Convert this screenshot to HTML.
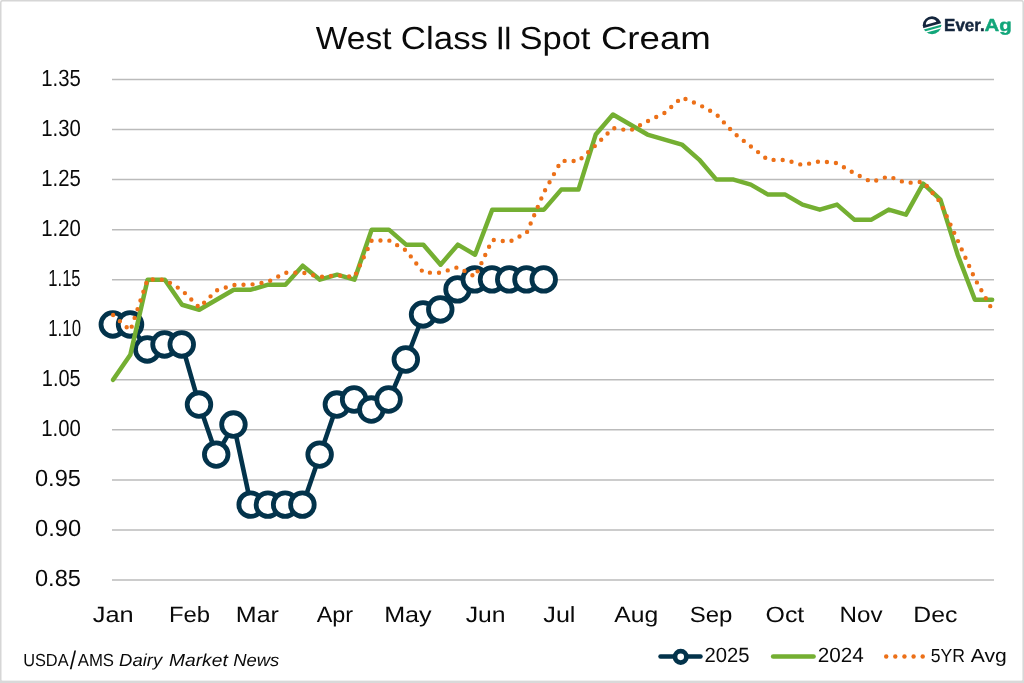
<!DOCTYPE html>
<html lang="en"><head><meta charset="utf-8"><title>West Class II Spot Cream</title>
<style>html,body{margin:0;padding:0;background:#fff;overflow:hidden}svg{display:block}text{font-family:"Liberation Sans",sans-serif;white-space:pre;text-rendering:geometricPrecision}</style></head><body>
<svg width="1024" height="683" viewBox="0 0 1024 683">
<rect x="0" y="0" width="1024" height="683" fill="#fff"/>
<rect x="0.75" y="0.65" width="1022.45" height="681.1" rx="2" ry="2" fill="none" stroke="#D6D6D6" stroke-width="1.5"/>
<rect x="0" y="680.6" width="1024" height="2.4" fill="#D9D9D9"/>
<g stroke="#BBBBBB" stroke-width="1.5"><line x1="112" y1="79.50" x2="994" y2="79.50"/><line x1="112" y1="129.55" x2="994" y2="129.55"/><line x1="112" y1="179.60" x2="994" y2="179.60"/><line x1="112" y1="229.65" x2="994" y2="229.65"/><line x1="112" y1="279.70" x2="994" y2="279.70"/><line x1="112" y1="329.75" x2="994" y2="329.75"/><line x1="112" y1="379.80" x2="994" y2="379.80"/><line x1="112" y1="429.85" x2="994" y2="429.85"/><line x1="112" y1="479.90" x2="994" y2="479.90"/><line x1="112" y1="529.95" x2="994" y2="529.95"/><line x1="112" y1="580.00" x2="994" y2="580.00"/></g>
<path d="M113.10 324.75 L130.34 324.75 L147.57 349.77 L164.81 344.77 L182.04 344.77 L199.28 404.83 L216.52 454.88 L233.75 424.85 L250.99 504.93 L268.22 504.93 L285.46 504.93 L302.70 504.93 L319.93 454.88 L337.17 404.83 L354.40 399.82 L371.64 409.83 L388.88 399.82 L406.11 359.78 L423.35 314.74 L440.58 309.73 L457.82 289.71 L475.06 279.70 L492.29 279.70 L509.53 279.70 L526.76 279.70 L544.00 279.70" fill="none" stroke="#03334B" stroke-width="4.6" stroke-linejoin="round" stroke-linecap="round"/>
<g fill="#fff" stroke="#03334B" stroke-width="4.8"><circle cx="112.80" cy="324.45" r="11.8"/><circle cx="130.04" cy="324.45" r="11.8"/><circle cx="147.27" cy="349.47" r="11.8"/><circle cx="164.51" cy="344.47" r="11.8"/><circle cx="181.74" cy="344.47" r="11.8"/><circle cx="198.98" cy="404.53" r="11.8"/><circle cx="216.22" cy="454.58" r="11.8"/><circle cx="233.45" cy="424.55" r="11.8"/><circle cx="250.69" cy="504.63" r="11.8"/><circle cx="267.92" cy="504.63" r="11.8"/><circle cx="285.16" cy="504.63" r="11.8"/><circle cx="302.40" cy="504.63" r="11.8"/><circle cx="319.63" cy="454.58" r="11.8"/><circle cx="336.87" cy="404.53" r="11.8"/><circle cx="354.10" cy="399.52" r="11.8"/><circle cx="371.34" cy="409.53" r="11.8"/><circle cx="388.58" cy="399.52" r="11.8"/><circle cx="405.81" cy="359.48" r="11.8"/><circle cx="423.05" cy="314.44" r="11.8"/><circle cx="440.28" cy="309.43" r="11.8"/><circle cx="457.52" cy="289.41" r="11.8"/><circle cx="474.76" cy="279.40" r="11.8"/><circle cx="491.99" cy="279.40" r="11.8"/><circle cx="509.23" cy="279.40" r="11.8"/><circle cx="526.46" cy="279.40" r="11.8"/><circle cx="543.70" cy="279.40" r="11.8"/></g>
<path d="M113.10 379.80 L130.34 354.78 L147.57 279.70 L164.81 279.70 L182.04 304.73 L199.28 309.73 L216.52 299.72 L233.75 289.71 L250.99 289.71 L268.22 284.71 L285.46 284.71 L302.70 265.69 L319.93 279.70 L337.17 274.70 L354.40 279.70 L371.64 229.65 L388.88 229.65 L406.11 244.67 L423.35 244.67 L440.58 264.69 L457.82 244.67 L475.06 254.68 L492.29 209.63 L509.53 209.63 L526.76 209.63 L544.00 209.63 L561.24 189.61 L578.47 189.61 L595.71 134.56 L612.94 114.54 L630.18 124.55 L647.42 134.56 L664.65 139.56 L681.89 144.57 L699.12 159.58 L716.36 179.60 L733.60 179.60 L750.83 184.60 L768.07 194.62 L785.30 194.62 L802.54 204.62 L819.78 209.63 L837.01 204.62 L854.25 219.64 L871.48 219.64 L888.72 209.63 L905.96 214.64 L923.19 183.60 L940.43 199.62 L957.66 254.68 L974.90 299.72 L992.14 299.72" fill="none" stroke="#74AF32" stroke-width="4.5" stroke-linejoin="round" stroke-linecap="round"/>
<path d="M113.10 314.94 L130.34 330.65 L147.57 279.40 L164.81 279.70 L182.04 290.21 L199.28 307.53 L216.52 290.41 L233.75 285.01 L250.99 284.60 L268.22 281.80 L285.46 272.69 L302.70 272.59 L319.93 276.90 L337.17 275.30 L354.40 277.00 L371.64 240.66 L388.88 240.36 L406.11 250.37 L423.35 272.59 L440.58 272.69 L457.82 267.19 L475.06 276.80 L492.29 239.86 L509.53 241.86 L526.76 232.65 L544.00 192.21 L561.24 160.88 L578.47 161.08 L595.71 145.27 L612.94 128.05 L630.18 130.65 L647.42 121.24 L664.65 112.93 L681.89 97.42 L699.12 104.63 L716.36 114.33 L733.60 132.85 L750.83 146.47 L768.07 159.88 L785.30 159.98 L802.54 165.09 L819.78 161.28 L837.01 163.18 L854.25 173.29 L871.48 182.00 L888.72 176.30 L905.96 183.00 L923.19 181.70 L940.43 202.52 L957.66 240.36 L974.90 278.80 L992.14 309.53" fill="none" stroke="#EC7018" stroke-width="4.4" stroke-linejoin="round" stroke-linecap="round" stroke-dasharray="0 9.19 0 9.19 0 9.19 0 9.19 0 9.19 0 9.19 0 9.19 0 9.19 0 9.07 0 9.07 0 9.07 0 9.07 0 9.07 0 9.07 0 9.07 0 9.06 0 9.06 0 9.06 0 9.06 0 9.06 0 9.06 0 9.06 0 9.06 0 9.06 0 9.06 0 9.06 0 9.06 0 9.06 0 9.07 0 9.07 0 9.07 0 9.07 0 9.07 0 9.07 0 9.07 0 9.07 0 9.07 0 9.07 0 8.99 0 8.99 0 8.99 0 8.99 0 8.99 0 8.99 0 8.99 0 9.09 0 9.09 0 9.09 0 9.09 0 9.09 0 9.09 0 9.06 0 9.06 0 9.06 0 9.06 0 9.06 0 9.06 0 9.06 0 9.06 0 9.06 0 9.07 0 9.07 0 9.07 0 9.07 0 9.07 0 9.23 0 9.23 0 9.23 0 9.23 0 9.00 0 9.00 0 9.00 0 9.00 0 9.00 0 9.00 0 9.00 0 9.09 0 9.09 0 9.09 0 9.09 0 9.09 0 9.09 0 9.12 0 9.12 0 9.12 0 9.13 0 9.13 0 9.13 0 9.13 0 9.08 0 9.08 0 9.08 0 9.08 0 9.08 0 9.08 0 9.08 0 9.10 0 9.10 0 9.10 0 9.10 0 9.09 0 9.07 0 9.07 0 9.07 0 9.07 0 9.07 0 9.07 0 9.07 0 9.09 0 9.09 0 9.09 0 9.09 0 9.09 0 9.09 0 9.13 0 9.13 0 9.13 0 9.13 0 9.13 0 9.13 0 9.08 0 9.08 0 9.08 0 9.08 0 9.08 0 9.08 0 9.08 0 9.08 0 9.08 0 9.08 0 50"/>
<line x1="660.5" y1="656.5" x2="700.5" y2="656.5" stroke="#03334B" stroke-width="4.5" stroke-linecap="round"/>
<circle cx="680.7" cy="656.85" r="5.7" fill="#fff" stroke="#03334B" stroke-width="4.75"/>
<line x1="773.15" y1="656.5" x2="813.55" y2="656.5" stroke="#74AF32" stroke-width="4.6" stroke-linecap="round"/>
<g fill="#EC7018"><circle cx="886.20" cy="656.55" r="2.2"/><circle cx="895.30" cy="656.55" r="2.2"/><circle cx="904.45" cy="656.55" r="2.2"/><circle cx="913.60" cy="656.55" r="2.2"/><circle cx="922.70" cy="656.55" r="2.2"/></g>
<defs><clipPath id="lc"><ellipse cx="0" cy="0" rx="9.25" ry="8.95"/></clipPath></defs>
<g transform="translate(932.05,25.25)"><g clip-path="url(#lc)"><g transform="rotate(-15.5)">
<path fill="#14263D" fill-rule="evenodd" d="M-12,-12 H12 V0.55 H-12 Z M-5.7,-2.1 A5.4 4.2 0 0 1 5.1,-2.1 Z"/>
<rect x="-12" y="1.85" width="24" height="2.3" fill="#12A67A"/>
<rect x="-12" y="5.6" width="24" height="6" fill="#12A67A"/>
</g></g></g>

<text class="title"><tspan id="t1" x="315.89" y="49" font-size="31.90" textLength="75.61" lengthAdjust="spacingAndGlyphs" fill="#0A0A0A">West</tspan> <tspan id="t2" x="400.89" y="49" font-size="31.90" textLength="87.09" lengthAdjust="spacingAndGlyphs" fill="#0A0A0A">Class</tspan> <tspan id="t3" x="496.37" y="49" font-size="31.90" textLength="8.18" lengthAdjust="spacingAndGlyphs" fill="#0A0A0A" stroke="#0A0A0A" stroke-width="0.50" stroke-linejoin="round">I</tspan><tspan id="t3b" x="504.33" y="49" font-size="31.90" textLength="7.14" lengthAdjust="spacingAndGlyphs" fill="#0A0A0A" stroke="#0A0A0A" stroke-width="0.50" stroke-linejoin="round">I</tspan> <tspan id="t4" x="519.53" y="49" font-size="31.90" textLength="70.92" lengthAdjust="spacingAndGlyphs" fill="#0A0A0A">Spot</tspan> <tspan id="t5" x="600.93" y="49" font-size="31.90" textLength="109.89" lengthAdjust="spacingAndGlyphs" fill="#0A0A0A">Cream</tspan></text>
<text id="y0" x="41.34" y="86" font-size="23.40" textLength="39.52" lengthAdjust="spacingAndGlyphs" fill="#0A0A0A">1.35</text>
<text id="y1" x="41.29" y="136" font-size="23.40" textLength="39.68" lengthAdjust="spacingAndGlyphs" fill="#0A0A0A">1.30</text>
<text id="y2" x="41.34" y="186" font-size="23.40" textLength="39.52" lengthAdjust="spacingAndGlyphs" fill="#0A0A0A">1.25</text>
<text id="y3" x="41.29" y="236" font-size="23.40" textLength="39.68" lengthAdjust="spacingAndGlyphs" fill="#0A0A0A">1.20</text>
<text id="y4" x="48.29" y="286" font-size="23.40" textLength="32.31" lengthAdjust="spacingAndGlyphs" fill="#0A0A0A">1.15</text>
<text id="y5" x="48.29" y="336" font-size="23.40" textLength="32.69" lengthAdjust="spacingAndGlyphs" fill="#0A0A0A">1.10</text>
<text id="y6" x="41.80" y="386" font-size="23.40" textLength="38.83" lengthAdjust="spacingAndGlyphs" fill="#0A0A0A">1.05</text>
<text id="y7" x="41.29" y="436" font-size="23.40" textLength="39.68" lengthAdjust="spacingAndGlyphs" fill="#0A0A0A">1.00</text>
<text id="y8" x="35.00" y="486" font-size="23.40" textLength="45.92" lengthAdjust="spacingAndGlyphs" fill="#0A0A0A">0.95</text>
<text id="y9" x="35.00" y="536" font-size="23.40" textLength="46.12" lengthAdjust="spacingAndGlyphs" fill="#0A0A0A">0.90</text>
<text id="y10" x="35.00" y="586" font-size="23.40" textLength="45.92" lengthAdjust="spacingAndGlyphs" fill="#0A0A0A">0.85</text>
<text id="m1" x="92.86" y="622" font-size="22.00" textLength="40.85" lengthAdjust="spacingAndGlyphs" fill="#0A0A0A">Jan</text>
<text id="m2" x="169.03" y="622" font-size="22.00" textLength="41.15" lengthAdjust="spacingAndGlyphs" fill="#0A0A0A">Feb</text>
<text id="m3" x="235.81" y="622" font-size="22.00" textLength="43.11" lengthAdjust="spacingAndGlyphs" fill="#0A0A0A">Mar</text>
<text id="m4" x="316.67" y="622" font-size="22.00" textLength="36.43" lengthAdjust="spacingAndGlyphs" fill="#0A0A0A">Apr</text>
<text id="m5" x="384.17" y="622" font-size="22.00" textLength="47.54" lengthAdjust="spacingAndGlyphs" fill="#0A0A0A">May</text>
<text id="m6" x="465.68" y="622" font-size="22.00" textLength="39.86" lengthAdjust="spacingAndGlyphs" fill="#0A0A0A">Jun</text>
<text id="m7" x="543.30" y="622" font-size="22.00" textLength="32.17" lengthAdjust="spacingAndGlyphs" fill="#0A0A0A">Jul</text>
<text id="m8" x="614.30" y="622" font-size="22.00" textLength="43.99" lengthAdjust="spacingAndGlyphs" fill="#0A0A0A">Aug</text>
<text id="m9" x="689.79" y="622" font-size="22.00" textLength="42.64" lengthAdjust="spacingAndGlyphs" fill="#0A0A0A">Sep</text>
<text id="m10" x="765.55" y="622" font-size="22.00" textLength="38.71" lengthAdjust="spacingAndGlyphs" fill="#0A0A0A">Oct</text>
<text id="m11" x="839.54" y="622" font-size="22.00" textLength="43.00" lengthAdjust="spacingAndGlyphs" fill="#0A0A0A">Nov</text>
<text id="m12" x="913.27" y="622" font-size="22.00" textLength="44.05" lengthAdjust="spacingAndGlyphs" fill="#0A0A0A">Dec</text>
<text class="foot"><tspan id="f1" x="23.13" y="666" font-size="17.40" textLength="45.46" lengthAdjust="spacingAndGlyphs" fill="#0A0A0A">USDA</tspan><tspan id="f1s" x="69.81" y="669" font-size="25.50" textLength="6.34" lengthAdjust="spacingAndGlyphs" fill="#0A0A0A">/</tspan><tspan id="f1b" x="77.74" y="666" font-size="17.40" textLength="36.28" lengthAdjust="spacingAndGlyphs" fill="#0A0A0A">AMS</tspan> <tspan id="f2" x="119.12" y="666" font-size="17.40" textLength="43.12" lengthAdjust="spacingAndGlyphs" fill="#0A0A0A" font-style="italic">Dairy</tspan> <tspan id="f3" x="169.07" y="666" font-size="17.40" textLength="58.68" lengthAdjust="spacingAndGlyphs" fill="#0A0A0A" font-style="italic">Market</tspan> <tspan id="f4" x="233.22" y="666" font-size="17.40" textLength="46.14" lengthAdjust="spacingAndGlyphs" fill="#0A0A0A" font-style="italic">News</tspan></text>
<text id="l1" x="704.41" y="662" font-size="20.60" textLength="45.01" lengthAdjust="spacingAndGlyphs" fill="#0A0A0A">2025</text>
<text id="l2" x="817.65" y="662" font-size="20.60" textLength="46.03" lengthAdjust="spacingAndGlyphs" fill="#0A0A0A">2024</text>
<text class="leg5"><tspan id="l3" x="930.81" y="662" font-size="18.90" textLength="34.26" lengthAdjust="spacingAndGlyphs" fill="#0A0A0A">5YR</tspan> <tspan id="l4" x="970.74" y="662" font-size="18.90" textLength="36.02" lengthAdjust="spacingAndGlyphs" fill="#0A0A0A">Avg</tspan></text>
<text class="logo"><tspan id="g1" x="944.09" y="31" font-size="17.40" textLength="40.58" lengthAdjust="spacingAndGlyphs" fill="#14263D" stroke="#14263D" stroke-width="0.45" stroke-linejoin="round" font-weight="bold">Ever.</tspan><tspan id="g2" x="984.48" y="31" font-size="17.40" textLength="27.21" lengthAdjust="spacingAndGlyphs" fill="#12A67A" stroke="#12A67A" stroke-width="0.45" stroke-linejoin="round" font-weight="bold">Ag</tspan></text>

</svg></body></html>
